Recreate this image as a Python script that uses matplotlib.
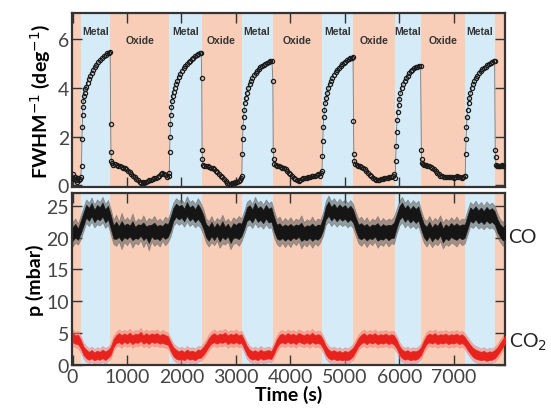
import matplotlib
matplotlib.use('Agg')

import numpy as np
import matplotlib.pyplot as plt

# === Data ===
metal_start = [162, 1772, 3103, 4574, 5921, 7206]
metal_end = [695, 2368, 3673, 5154, 6399, 7757]
t_max = 7940

fwhm_time = [
    0, 15, 30, 45, 60, 75, 90, 105, 120, 135, 150,
    165, 172, 178, 184, 190, 198, 208, 220, 235, 253, 275, 300, 325, 350, 375, 405, 435, 465, 500, 535,
    570, 605, 640, 670, 690,
    700, 706, 712, 725, 750, 780, 810, 840, 870, 900, 930, 960, 990, 1020, 1050, 1080, 1110, 1140, 1170,
    1200, 1230, 1260, 1290, 1320, 1350, 1380, 1410, 1440, 1470, 1500, 1530, 1560, 1590, 1620, 1650, 1680,
    1710, 1740, 1765,
    1775, 1782, 1790, 1797, 1805, 1815, 1825, 1840, 1858, 1877, 1900, 1925, 1950, 1980, 2010, 2040, 2070,
    2100, 2130, 2160, 2190, 2220, 2250, 2280, 2310, 2340, 2362,
    2372, 2378, 2385, 2395, 2420, 2450, 2480, 2510, 2540, 2570, 2600, 2630, 2660, 2690, 2720, 2750, 2780,
    2810, 2840, 2870, 2900, 2930, 2960, 2990, 3020, 3050, 3080, 3098,
    3108, 3115, 3122, 3130, 3140, 3152, 3165, 3180, 3200, 3225, 3250, 3275, 3300, 3330, 3360, 3390, 3420,
    3450, 3480, 3510, 3540, 3570, 3600, 3630, 3660,
    3678, 3684, 3692, 3705, 3730, 3760, 3790, 3820, 3850, 3880, 3910, 3940, 3970, 4000, 4030, 4060, 4090,
    4120, 4150, 4180, 4210, 4240, 4270, 4300, 4330, 4360, 4390, 4420, 4450, 4480, 4510, 4540, 4565,
    4580, 4587, 4594, 4602, 4612, 4625, 4640, 4655, 4675, 4695, 4720, 4745, 4770, 4800, 4830, 4860, 4890,
    4920, 4950, 4980, 5010, 5040, 5070, 5100, 5130, 5150,
    5158, 5165, 5175, 5190, 5215, 5245, 5275, 5305, 5335, 5365, 5395, 5425, 5455, 5485, 5515, 5545, 5575,
    5605, 5635, 5665, 5695, 5725, 5755, 5785, 5815, 5845, 5875, 5905,
    5925, 5932, 5940, 5948, 5958, 5970, 5985, 6000, 6020, 6044, 6070, 6095, 6120, 6150, 6180, 6210, 6240,
    6270, 6300, 6330, 6360, 6390,
    6404, 6410, 6418, 6430, 6455, 6485, 6515, 6545, 6575, 6605, 6635, 6665, 6695, 6725, 6755, 6785, 6815,
    6845, 6875, 6905, 6935, 6965, 6995, 7025, 7055, 7085, 7115, 7145, 7175, 7198,
    7210, 7217, 7225, 7233, 7243, 7255, 7270, 7285, 7305, 7331, 7355, 7380, 7405, 7435, 7465, 7495, 7525,
    7555, 7585, 7615, 7645, 7675, 7705, 7730, 7750,
    7760, 7766, 7775, 7790, 7810, 7830, 7850, 7870, 7890, 7910, 7930,
]
fwhm_val = [
    0.30, 0.45, 0.25, 0.35, 0.20, 0.30, 0.15, 0.30, 0.20, 0.25, 0.35,
    0.8, 1.9, 2.4, 2.9, 3.2, 3.45, 3.65, 3.8, 3.95, 4.05, 4.2, 4.35, 4.5, 4.62, 4.72, 4.85, 4.95, 5.05, 5.13, 5.22,
    5.3, 5.36, 5.42, 5.45, 5.47,
    2.5, 1.35, 1.0, 0.9, 0.85, 0.88, 0.82, 0.8, 0.78, 0.75, 0.72, 0.7, 0.66, 0.6, 0.55, 0.45, 0.4, 0.33, 0.26,
    0.2, 0.15, 0.1, 0.12, 0.1, 0.15, 0.18, 0.2, 0.22, 0.25, 0.28, 0.3, 0.33, 0.38, 0.45, 0.5, 0.45,
    0.42, 0.35, 0.38,
    0.5, 1.35, 2.0, 2.5, 2.9, 3.2, 3.45, 3.65, 3.85, 4.0, 4.15, 4.3, 4.45, 4.58, 4.7, 4.8, 4.9,
    4.98, 5.05, 5.12, 5.18, 5.24, 5.3, 5.35, 5.4, 5.43, 5.45,
    4.4, 1.43, 1.1, 0.85, 0.8, 0.78, 0.8, 0.75, 0.72, 0.7, 0.65, 0.6, 0.55, 0.48, 0.4, 0.32, 0.25,
    0.18, 0.1, 0.05, 0.05, 0.08, 0.1, 0.12, 0.15, 0.18, 0.2, 0.3,
    0.4, 1.3, 1.9, 2.4, 2.8, 3.1, 3.4, 3.6, 3.8, 4.0, 4.15, 4.28, 4.4, 4.52, 4.62, 4.7, 4.78,
    4.85, 4.9, 4.95, 5.0, 5.04, 5.07, 5.1, 5.12,
    4.3, 1.43, 1.1, 0.88, 0.85, 0.8, 0.78, 0.75, 0.72, 0.7, 0.66, 0.6, 0.52, 0.45, 0.38, 0.3, 0.25,
    0.2, 0.18, 0.22, 0.25, 0.28, 0.3, 0.3, 0.32, 0.35, 0.37, 0.38, 0.4, 0.42, 0.45, 0.4, 0.5,
    0.6, 1.2, 1.8, 2.4, 2.8, 3.1, 3.4, 3.6, 3.8, 4.0, 4.15, 4.3, 4.42, 4.55, 4.65, 4.75, 4.83,
    4.9, 4.97, 5.03, 5.08, 5.13, 5.17, 5.21, 5.25, 5.27,
    2.66, 1.29, 1.0, 0.88, 0.85, 0.8, 0.78, 0.75, 0.7, 0.67, 0.6, 0.52, 0.42, 0.37, 0.3, 0.25, 0.22,
    0.2, 0.22, 0.25, 0.26, 0.28, 0.3, 0.3, 0.33, 0.35, 0.4, 0.45,
    0.3, 1.0, 1.6, 2.2, 2.7, 3.0, 3.3, 3.55, 3.8, 4.0, 4.15, 4.28, 4.4, 4.5, 4.6, 4.68, 4.74,
    4.8, 4.84, 4.87, 4.9, 4.92,
    1.45, 1.08, 0.9, 0.86, 0.85, 0.82, 0.8, 0.78, 0.75, 0.72, 0.65, 0.58, 0.5, 0.45, 0.4, 0.37, 0.35,
    0.33, 0.32, 0.33, 0.35, 0.33, 0.3, 0.35, 0.37, 0.36, 0.34, 0.3, 0.32, 0.4,
    0.4, 1.3, 1.9, 2.4, 2.8, 3.1, 3.4, 3.6, 3.8, 4.0, 4.15, 4.28, 4.4, 4.5, 4.6, 4.68, 4.76,
    4.83, 4.88, 4.93, 4.98, 5.02, 5.06, 5.1, 5.12,
    1.43, 1.15, 0.85, 0.8, 0.78, 0.8, 0.78, 0.8, 0.82, 0.8, 0.78,
]

# pressure traces sampled every 50 s (0 ... 7950 s), upper / lower edge of the noisy trace
p_time = np.arange(0, 7951, 50)
co_hi = [
    22.5, 23.0, 22.2, 23.5, 24.8, 26.0, 25.5, 26.3, 25.2, 26.0, 25.6, 26.4, 25.3, 25.9, 24.5, 22.8, 23.6, 22.5, 23.9, 22.7,
    23.2, 22.6, 23.8, 22.4, 23.0, 22.7, 23.5, 22.5, 23.1, 22.8, 23.4, 22.6, 23.0, 22.5, 23.3, 22.9, 24.2, 25.5, 26.2, 25.8,
    26.0, 25.4, 26.5, 25.6, 25.9, 25.3, 26.2, 25.5, 24.5, 23.0, 22.6, 23.4, 22.4, 23.1, 22.7, 23.6, 22.5, 23.0, 22.4, 23.2,
    22.8, 23.4, 23.0, 24.2, 25.6, 26.0, 25.3, 26.4, 25.5, 25.8, 25.2, 26.0, 25.4, 25.7, 24.2, 22.9, 23.3, 22.5, 23.1, 22.6,
    23.2, 22.5, 23.0, 22.7, 23.5, 22.4, 22.9, 22.6, 23.3, 22.5, 23.0, 22.8, 24.0, 25.8, 26.6, 25.7, 26.2, 25.5, 26.1, 25.6,
    26.0, 25.4, 25.9, 25.3, 24.0, 22.9, 23.3, 22.6, 23.2, 22.4, 23.0, 22.7, 23.4, 22.5, 23.1, 22.6, 23.0, 22.8, 23.3, 24.5,
    25.8, 26.4, 25.5, 26.0, 25.3, 25.9, 25.4, 25.8, 24.3, 23.0, 22.6, 23.4, 22.5, 23.1, 22.7, 23.5, 22.4, 23.0, 22.6, 23.2,
    22.7, 23.3, 22.6, 23.0, 22.9, 24.3, 25.6, 25.2, 25.8, 25.1, 25.6, 25.0, 25.7, 25.2, 25.5, 25.0, 23.8, 22.9, 22.5, 22.8,
]
co_lo = [
    18.6, 19.2, 18.9, 19.8, 21.0, 22.3, 21.8, 22.5, 21.6, 22.1, 21.9, 22.4, 21.5, 22.0, 20.5, 19.0, 18.7, 19.4, 18.2, 19.3,
    18.8, 19.5, 18.4, 19.2, 18.9, 19.6, 18.5, 19.3, 18.0, 19.4, 18.7, 19.1, 18.6, 19.5, 18.8, 19.3, 20.2, 21.8, 22.4, 22.0,
    22.3, 21.7, 22.5, 21.8, 22.2, 21.6, 22.0, 21.5, 20.5, 19.2, 18.6, 19.3, 18.8, 19.5, 18.4, 19.1, 18.9, 19.4, 18.2, 19.0,
    19.2, 18.7, 19.4, 20.5, 21.8, 22.0, 21.5, 22.3, 21.6, 21.9, 21.4, 22.1, 21.5, 21.6, 20.0, 19.0, 18.6, 19.2, 18.5, 19.1,
    18.5, 19.3, 18.8, 19.4, 18.3, 19.0, 18.6, 19.2, 18.4, 19.1, 18.7, 19.3, 20.3, 22.0, 22.5, 21.8, 22.3, 21.7, 22.2, 21.8,
    22.1, 21.6, 22.0, 21.5, 20.2, 19.1, 18.7, 19.3, 18.5, 19.2, 18.8, 19.4, 18.4, 19.0, 18.7, 19.3, 18.6, 19.1, 19.0, 20.6,
    21.9, 22.4, 21.6, 22.1, 21.5, 21.9, 21.4, 21.8, 20.4, 19.2, 18.6, 19.3, 18.5, 19.1, 18.8, 19.4, 18.3, 19.0, 18.7, 19.2,
    19.0, 18.6, 19.3, 18.8, 19.1, 20.4, 21.8, 21.5, 22.0, 21.4, 21.7, 21.3, 21.8, 21.4, 21.6, 21.2, 20.0, 19.3, 18.7, 19.0,
]
co2_hi = [
    5.6, 5.2, 5.4, 4.6, 3.5, 3.0, 2.6, 2.9, 2.5, 2.8, 2.6, 3.0, 2.7, 2.9, 3.4, 4.6, 5.2, 5.6, 5.3, 5.5,
    5.3, 5.7, 5.2, 5.5, 5.4, 5.8, 5.2, 5.6, 5.3, 5.5, 5.4, 5.6, 5.2, 5.5, 5.3, 5.1, 4.2, 3.4, 3.0, 2.7,
    2.9, 2.6, 3.0, 2.7, 2.8, 2.6, 3.0, 2.9, 3.4, 4.0, 4.8, 5.3, 5.6, 5.2, 5.5, 5.4, 5.7, 5.2, 5.5, 5.3,
    5.6, 5.2, 5.4, 4.6, 3.6, 3.0, 2.7, 2.9, 2.6, 3.0, 2.7, 2.8, 2.9, 2.7, 3.6, 4.6, 5.3, 5.5, 5.2, 5.6,
    5.3, 5.5, 5.2, 5.6, 5.4, 5.2, 5.5, 5.3, 5.7, 5.2, 5.4, 5.3, 4.6, 3.6, 3.0, 2.7, 2.9, 2.6, 2.8, 2.5,
    2.8, 2.6, 2.9, 3.3, 4.0, 4.8, 5.3, 5.6, 5.2, 5.5, 5.3, 5.6, 5.2, 5.4, 5.3, 5.5, 5.2, 5.4, 5.3, 4.6,
    3.6, 3.0, 2.7, 2.9, 2.6, 2.8, 2.7, 2.9, 3.4, 4.4, 5.2, 5.5, 5.3, 5.6, 5.2, 5.4, 5.3, 5.5, 5.2, 5.4,
    5.3, 5.5, 5.2, 5.4, 5.0, 4.4, 3.8, 3.3, 3.0, 2.8, 2.6, 2.8, 2.5, 2.7, 2.6, 2.9, 3.3, 4.0, 4.6, 5.2,
]
co2_lo = [
    3.0, 2.8, 2.6, 2.0, 1.0, 0.5, 0.3, 0.5, 0.2, 0.4, 0.3, 0.5, 0.2, 0.6, 1.0, 2.2, 2.9, 3.0, 2.7, 3.1,
    2.8, 3.1, 2.7, 3.0, 2.9, 3.2, 2.8, 3.0, 2.7, 3.1, 2.9, 3.0, 2.8, 2.9, 2.7, 2.6, 1.6, 0.8, 0.4, 0.3,
    0.4, 0.2, 0.5, 0.3, 0.4, 0.2, 0.5, 0.6, 1.0, 1.6, 2.3, 2.8, 3.0, 2.8, 3.0, 2.9, 3.1, 2.7, 3.0, 2.8,
    3.0, 2.8, 2.9, 2.0, 1.0, 0.5, 0.3, 0.4, 0.2, 0.5, 0.3, 0.4, 0.5, 0.4, 1.2, 2.2, 2.8, 3.0, 2.8, 3.1,
    2.8, 3.0, 2.7, 3.1, 2.9, 2.8, 3.0, 2.7, 3.0, 2.8, 2.9, 2.7, 2.0, 1.0, 0.5, 0.3, 0.4, 0.2, 0.3, 0.2,
    0.3, 0.2, 0.4, 0.8, 1.6, 2.4, 2.8, 3.0, 2.7, 3.0, 2.8, 3.0, 2.7, 2.9, 2.8, 3.0, 2.7, 2.9, 2.6, 2.0,
    1.0, 0.5, 0.3, 0.4, 0.2, 0.3, 0.3, 0.5, 1.0, 2.0, 2.7, 3.0, 2.8, 3.0, 2.7, 2.9, 2.8, 3.0, 2.7, 2.9,
    2.8, 3.0, 2.7, 2.9, 2.5, 1.8, 1.2, 0.7, 0.4, 0.3, 0.2, 0.3, 0.1, 0.2, 0.3, 0.5, 1.0, 1.6, 2.3, 2.9,
]

x_ticks = [0, 1000, 2000, 3000, 4000, 5000, 6000, 7000]
fwhm_ticks = [0, 2, 4, 6]
p_ticks = [0, 5, 10, 15, 20, 25]

# === Style ===
blue_bg = '#d5ecf8'
orange_bg = '#f8ceb8'
frame_col = '#333333'
plt.rcParams['font.family'] = 'Lato'

fig = plt.figure(figsize=(5.51, 4.10), dpi=100)
ax1 = fig.add_axes([0.1307, 0.5415, 0.7858, 0.4244])
ax2 = fig.add_axes([0.1307, 0.1073, 0.7858, 0.4195])

# background phases
oxide_start = [0] + metal_end
oxide_end = metal_start + [t_max]
for ax in (ax1, ax2):
    for a, b in zip(metal_start, metal_end):
        ax.axvspan(a, b, color=blue_bg, lw=0, zorder=0)
    for a, b in zip(oxide_start, oxide_end):
        ax.axvspan(a, b, color=orange_bg, lw=0, zorder=0)

# === Top panel: FWHM^-1 ===
ax1.plot(fwhm_time, fwhm_val, '-', color='#777777', lw=0.6, zorder=2)
ax1.plot(fwhm_time, fwhm_val, 'o', ms=3.0, mfc='none', mec='#1a1a1a', mew=0.9, zorder=3)
ax1.set_ylim(-0.07, 7.08)
ax1.set_yticks(fwhm_ticks)
ax1.set_ylabel('FWHM$^{-1}$ (deg$^{-1}$)', fontsize=14, fontweight='bold', labelpad=4)

for a, b in zip(metal_start, metal_end):
    ax1.text((a + b) / 2, 6.35, 'Metal', fontsize=7.5, fontweight='bold', family='Liberation Sans',
             color='#333333', ha='center', va='center')
for a, b in zip(oxide_start[1:-1], oxide_end[1:-1]):
    ax1.text((a + b) / 2, 5.98, 'Oxide', fontsize=7.5, fontweight='bold', family='Liberation Sans',
             color='#333333', ha='center', va='center')

# === Bottom panel: pressures ===
# noisy fringe (full envelope) and denser core (inner part of the same envelope)
for lo, hi, fringe, core in ((co_lo, co_hi, '#5a5a5a', '#151515'),
                             (co2_lo, co2_hi, '#f07f76', '#e8231e')):
    lo = np.asarray(lo)
    hi = np.asarray(hi)
    inset = 0.22 * (hi - lo)
    ax2.fill_between(p_time, lo, hi, color=fringe, lw=0.5, alpha=0.55, zorder=2)
    ax2.fill_between(p_time, lo + inset, hi - inset, color=core, lw=0.3, zorder=3)

ax2.set_ylim(0, 27)
ax2.set_yticks(p_ticks)
ax2.set_ylabel('p (mbar)', fontsize=14, fontweight='bold', labelpad=2)
ax2.set_xlabel('Time (s)', fontsize=14, fontweight='bold', labelpad=0)

fig.text(0.923, ax2.transData.transform((0, 20.2))[1] / 410, 'CO', fontsize=14, color='#222222',
         va='center', ha='left')
fig.text(0.923, ax2.transData.transform((0, 3.7))[1] / 410, 'CO$_2$', fontsize=14, color='#222222',
         va='center', ha='left')

for ax in (ax1, ax2):
    ax.set_xlim(-10, t_max)
    ax.set_xticks(x_ticks)
    ax.tick_params(direction='in', top=True, right=True, length=7, width=1, colors=frame_col,
                   labelsize=14, labelcolor='#444444', pad=2)
    for sp in ax.spines.values():
        sp.set_linewidth(1.6)
        sp.set_color(frame_col)
ax1.tick_params(labelbottom=False)

fig.savefig('out.png', dpi=100)
